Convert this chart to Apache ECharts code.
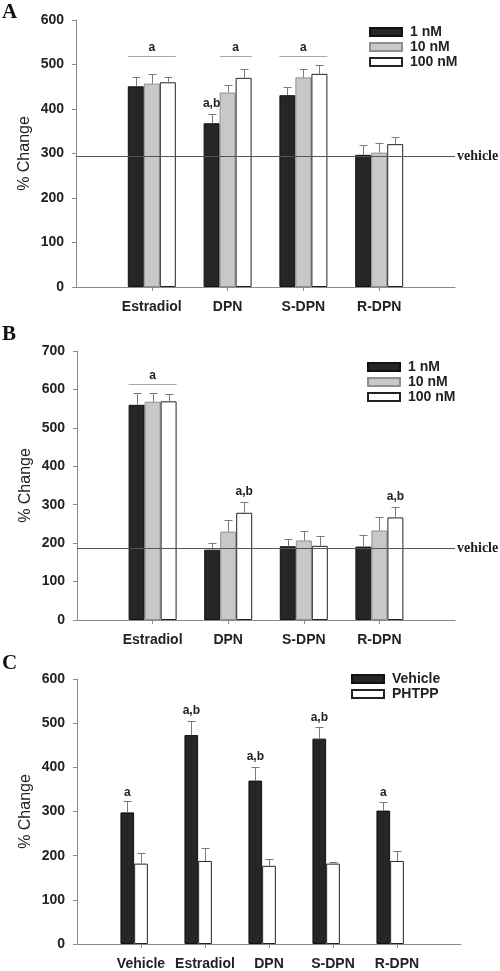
<!DOCTYPE html>
<html><head><meta charset="utf-8">
<script src="https://cdn.jsdelivr.net/npm/echarts@6/dist/echarts.min.js"></script>
<style>html,body{margin:0;padding:0;background:#fff}#c{width:500px;height:971px}</style>
</head><body><div id="c"></div>
<script>
// ---------- data ----------
const categoriesAB = ['Estradiol', 'DPN', 'S-DPN', 'R-DPN'];
const dosesAB = ['1 nM', '10 nM', '100 nM'];

const meanA_1 = [451, 368, 431, 297];
const meanA_10 = [457, 437, 471, 302];
const meanA_100 = [460, 470, 479, 321];
const errA_1 = [20, 20, 19, 21];
const errA_10 = [22, 18, 20, 22];
const errA_100 = [12, 21, 19, 17];
const vehicleA = 294;
const ticksA = [0, 100, 200, 300, 400, 500, 600];

const meanB_1 = [560, 183, 192, 191];
const meanB_10 = [568, 230, 207, 233];
const meanB_100 = [569, 279, 193, 267];
const errB_1 = [31, 18, 18, 30];
const errB_10 = [23, 30, 25, 34];
const errB_100 = [18, 27, 25, 27];
const vehicleB = 187;
const ticksB = [0, 100, 200, 300, 400, 500, 600, 700];

const categoriesC = ['Vehicle', 'Estradiol', 'DPN', 'S-DPN', 'R-DPN'];
const groupsC = ['Vehicle', 'PHTPP'];
const meanC_veh = [298, 473, 370, 465, 302];
const meanC_phtpp = [182, 188, 177, 182, 188];
const errC_veh = [26, 31, 31, 26, 19];
const errC_phtpp = [25, 30, 16, 4, 22];
const ticksC = [0, 100, 200, 300, 400, 500, 600];

// significance brackets: [category, fromBar, toBar, value, text]
const bracketsA = [['Estradiol', 0, 2, 520, 'a'], ['DPN', 1, 2, 520, 'a'], ['S-DPN', 0, 2, 520, 'a']];
const bracketsB = [['Estradiol', 0, 2, 613, 'a']];
// letters: [category, bar, value, text]
const lettersA = [['DPN', 0, 411, 'a,b']];
const lettersB = [['DPN', 2, 333, 'a,b'], ['R-DPN', 2, 320, 'a,b']];
const lettersC = [['Vehicle', 0, 342, 'a'], ['Estradiol', 0, 528, 'a,b'], ['DPN', 0, 423, 'a,b'], ['S-DPN', 0, 513, 'a,b'], ['R-DPN', 0, 342, 'a']];

// ---------- helpers ----------
const FONT = 'Liberation Sans, Arial, sans-serif';
const SERIF = 'Liberation Serif, Times New Roman, serif';
const AXIS_COLOR = '#8a8a8a';
const pad = arr => ['-'].concat(arr).concat(['-']);
const padCat = arr => [''].concat(arr).concat(['']);

function xAxis(gridIndex, cats) {
  return {
    type: 'category', gridIndex, data: padCat(cats), boundaryGap: false,
    axisLine: { lineStyle: { color: AXIS_COLOR, width: 1 } },
    axisTick: { show: true, length: 4, interval: (i, v) => v !== '', lineStyle: { color: AXIS_COLOR } },
    axisLabel: { interval: 0, margin: 13, color: '#222', fontFamily: FONT, fontWeight: 'bold', fontSize: 14 },
    splitLine: { show: false }
  };
}
function yAxis(gridIndex, ticks) {
  return {
    type: 'value', gridIndex, min: ticks[0], max: ticks[ticks.length - 1], interval: ticks[1] - ticks[0],
    name: '% Change', nameLocation: 'middle', nameGap: 43, nameRotate: 90, nameMoveOverlap: false,
    nameTextStyle: { fontFamily: FONT, fontSize: 16, color: '#222' },
    axisLine: { show: true, lineStyle: { color: AXIS_COLOR, width: 1 } },
    axisTick: { show: true, length: 4, lineStyle: { color: AXIS_COLOR } },
    axisLabel: { margin: 12, color: '#222', fontFamily: FONT, fontWeight: 'bold', fontSize: 14 },
    splitLine: { show: false }
  };
}
const STYLES = [
  { color: '#262626', borderColor: '#111', borderWidth: 1 },
  { color: '#c8c8c8', borderColor: '#8f8f8f', borderWidth: 1 },
  { color: '#ffffff', borderColor: '#222', borderWidth: 1 }
];
function barSeries(name, idx, data, style, barW) {
  return { type: 'bar', name, xAxisIndex: idx, yAxisIndex: idx, data: pad(data), barWidth: barW, barGap: '0%',
    itemStyle: style, z: 2, silent: true };
}
function errorSeries(idx, means, errs, nBars, barW) {
  const data = [];
  means.forEach((arr, b) => arr.forEach((m, i) => data.push([i + 1, m, errs[b][i], b])));
  return {
    type: 'custom', xAxisIndex: idx, yAxisIndex: idx, data, encode: { x: 0, y: 1 }, z: 3, silent: true,
    renderItem(params, api) {
      const c = api.value(0), m = api.value(1), e = api.value(2), b = api.value(3);
      const base = api.coord([c, m]), top = api.coord([c, m + e]);
      const x = Math.round(base[0] + (b - (nBars - 1) / 2) * barW) + 0.5;
      const yt = Math.round(top[1]) + 0.5;
      return { type: 'group', children: [
        { type: 'line', shape: { x1: x, y1: base[1], x2: x, y2: yt }, style: { stroke: '#7a7a7a', lineWidth: 1 } },
        { type: 'line', shape: { x1: x - 4, y1: yt, x2: x + 4, y2: yt }, style: { stroke: '#7a7a7a', lineWidth: 1 } }
      ] };
    }
  };
}
function bracketSeries(idx, cats, brackets, nBars, barW) {
  const data = brackets.map(b => [cats.indexOf(b[0]) + 1, b[3], b[1], b[2]]);
  return {
    type: 'custom', xAxisIndex: idx, yAxisIndex: idx, data, encode: { x: 0, y: 1 }, z: 4, silent: true,
    renderItem(params, api) {
      const c = api.value(0), v = api.value(1), f = api.value(2), t = api.value(3);
      const p = api.coord([c, v]);
      const x1 = p[0] + (f - (nBars - 1) / 2) * barW - barW / 2;
      const x2 = p[0] + (t - (nBars - 1) / 2) * barW + barW / 2;
      const y = Math.round(p[1]) + 0.5;
      const txt = brackets[params.dataIndex][4];
      return { type: 'group', children: [
        { type: 'line', shape: { x1, y1: y, x2, y2: y }, style: { stroke: '#a8a8a8', lineWidth: 1 } },
        { type: 'text', style: { text: txt, x: (x1 + x2) / 2, y: y - 9, align: 'center', verticalAlign: 'middle',
          font: 'bold 12px ' + FONT, fill: '#222' } }
      ] };
    }
  };
}
function letterSeries(idx, cats, letters, nBars, barW) {
  const data = letters.map(l => [cats.indexOf(l[0]) + 1, l[2], l[1]]);
  return {
    type: 'custom', xAxisIndex: idx, yAxisIndex: idx, data, encode: { x: 0, y: 1 }, z: 4, silent: true,
    renderItem(params, api) {
      const c = api.value(0), v = api.value(1), b = api.value(2);
      const p = api.coord([c, v]);
      const x = p[0] + (b - (nBars - 1) / 2) * barW;
      return { type: 'text', style: { text: letters[params.dataIndex][3], x, y: p[1], align: 'center', verticalAlign: 'middle',
        font: 'bold 12px ' + FONT, fill: '#222' } };
    }
  };
}
function vehicleLine(value) {
  return {
    silent: true, symbol: ['none', 'none'], animation: false,
    lineStyle: { color: '#555', width: 1, type: 'solid' },
    label: { show: true, position: 'end', formatter: 'vehicle', distance: 2,
      fontFamily: SERIF, fontWeight: 'bold', fontSize: 14, color: '#222' },
    data: [{ yAxis: value }]
  };
}
function legend(names, left, top) {
  return {
    data: names, orient: 'vertical', left, top, padding: 0, itemWidth: 32, itemHeight: 8, itemGap: 1, selectedMode: false,
    icon: 'rect',
    textStyle: { fontFamily: FONT, fontWeight: 'bold', fontSize: 14, color: '#222', lineHeight: 14, padding: [0, 0, 0, 3] }
  };
}

const BW_AB = 16, BW_C = 13.7;
const sA1 = barSeries(dosesAB[0], 0, meanA_1, STYLES[0], BW_AB);
sA1.markLine = vehicleLine(vehicleA);
const sB1 = barSeries(dosesAB[0], 1, meanB_1, STYLES[0], BW_AB);
sB1.markLine = vehicleLine(vehicleB);

const option = {
  animation: false,
  backgroundColor: '#fff',
  grid: [
    { left: 76, right: 45, top: 20, height: 267 },
    { left: 77, right: 45, top: 351, height: 269 },
    { left: 77, right: 39, top: 679, height: 267 }
  ],
  xAxis: [xAxis(0, categoriesAB), xAxis(1, categoriesAB), xAxis(2, categoriesC)],
  yAxis: [yAxis(0, ticksA), yAxis(1, ticksB), yAxis(2, ticksC)],
  legend: [
    legend(dosesAB, 369, 25),
    legend(dosesAB, 367, 360),
    legend(groupsC, 351, 672)
  ],
  graphic: [
    { type: 'text', left: 2, top: 2, style: { text: 'A', font: 'bold 21px ' + SERIF, fill: '#111' } },
    { type: 'text', left: 2, top: 324, style: { text: 'B', font: 'bold 21px ' + SERIF, fill: '#111' } },
    { type: 'text', left: 2, top: 653, style: { text: 'C', font: 'bold 21px ' + SERIF, fill: '#111' } }
  ],
  series: [
    sA1,
    barSeries(dosesAB[1], 0, meanA_10, STYLES[1], BW_AB),
    barSeries(dosesAB[2], 0, meanA_100, STYLES[2], BW_AB),
    errorSeries(0, [meanA_1, meanA_10, meanA_100], [errA_1, errA_10, errA_100], 3, BW_AB),
    bracketSeries(0, categoriesAB, bracketsA, 3, BW_AB),
    letterSeries(0, categoriesAB, lettersA, 3, BW_AB),

    sB1,
    barSeries(dosesAB[1], 1, meanB_10, STYLES[1], BW_AB),
    barSeries(dosesAB[2], 1, meanB_100, STYLES[2], BW_AB),
    errorSeries(1, [meanB_1, meanB_10, meanB_100], [errB_1, errB_10, errB_100], 3, BW_AB),
    bracketSeries(1, categoriesAB, bracketsB, 3, BW_AB),
    letterSeries(1, categoriesAB, lettersB, 3, BW_AB),

    barSeries(groupsC[0], 2, meanC_veh, STYLES[0], BW_C),
    barSeries(groupsC[1], 2, meanC_phtpp, STYLES[2], BW_C),
    barSeries('spacer', 2, categoriesC.map(() => '-'), STYLES[1], BW_C),
    errorSeries(2, [meanC_veh, meanC_phtpp], [errC_veh, errC_phtpp], 3, BW_C),
    letterSeries(2, categoriesC, lettersC, 3, BW_C)
  ]
};
const chart = echarts.init(document.getElementById('c'), null, { renderer: 'canvas' });
chart.setOption(option);
</script></body></html>
